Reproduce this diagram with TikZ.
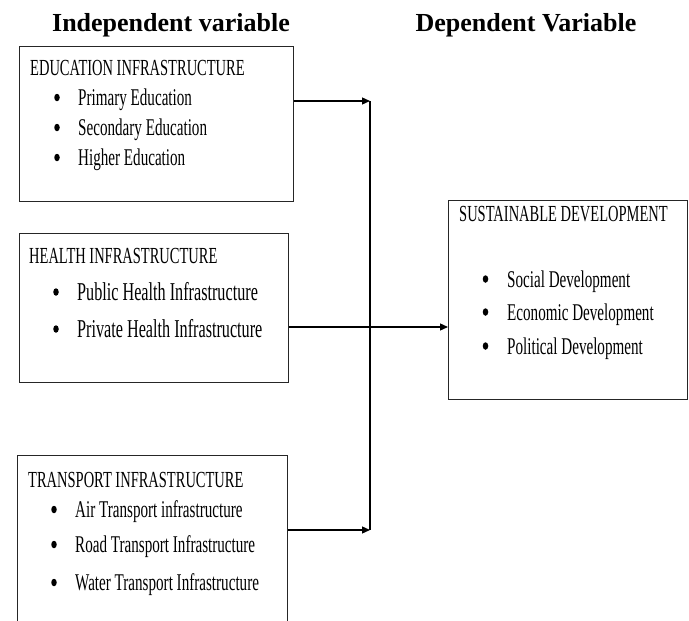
\documentclass[tikz,border=0pt]{standalone}
\usepackage{fontspec}
\setmainfont{Liberation Serif}
\newfontfamily\boxfont{Liberation Serif}[FakeStretch=0.63]
\usetikzlibrary{arrows.meta,shapes.geometric}
\begin{document}
\begin{tikzpicture}[x=1pt,y=-1pt,
  box/.style={draw=black!85, line width=1.4pt, inner sep=0pt, anchor=north west},
  ttl/.style={anchor=base west, inner sep=0pt, font=\boxfont\fontsize{23}{26}\selectfont},
  itm/.style={anchor=base west, inner sep=0pt, font=\boxfont\fontsize{24}{27}\selectfont},
  bitm/.style={anchor=base west, inner sep=0pt, font=\boxfont\fontsize{25.7}{29}\selectfont},
  bul/.style={ellipse, fill=black, inner sep=0pt, minimum width=5.5pt, minimum height=7.5pt},
  head/.style={anchor=base, inner sep=0pt, font=\bfseries\fontsize{26}{30}\selectfont},
  conn/.style={draw=black, line width=1.3pt},
  arr/.style={conn, -{Triangle[length=8pt,width=7pt]}}
]
\useasboundingbox (0,0) rectangle (689,621);

% headers
\node[head] (h1) at (171,31) {Independent variable};
\node[head] (h2) at (526,31) {Dependent Variable};

% boxes
\node[box, minimum width=274pt, minimum height=155pt] (edu) at (19,46) {};
\node[box, minimum width=269pt, minimum height=149pt] (hea) at (19,233) {};
\node[box, minimum width=270pt, minimum height=190pt] (tra) at (17,455) {};
\node[box, minimum width=239pt, minimum height=199pt] (sus) at (448,200) {};

% education text
\node[ttl] (edut) at (30,75.5) {EDUCATION INFRASTRUCTURE};
\node[bul] (edub1) at (57,97.5) {};
\node[bul] (edub2) at (57,127.5) {};
\node[bul] (edub3) at (57,157.5) {};
\node[itm] (edui1) at (78,105) {Primary Education};
\node[itm] (edui2) at (78,135) {Secondary Education};
\node[itm] (edui3) at (78,165) {Higher Education};

% health text
\node[ttl] (heat) at (29,263) {HEALTH INFRASTRUCTURE};
\node[bul] (heab1) at (56,292) {};
\node[bul] (heab2) at (56,329) {};
\node[bitm] (heai1) at (77,300) {Public Health Infrastructure};
\node[bitm] (heai2) at (77,337) {Private Health Infrastructure};

% transport text
\node[ttl] (trat) at (28,487) {TRANSPORT INFRASTRUCTURE};
\node[bul] (trab1) at (54,509.5) {};
\node[bul] (trab2) at (54,544.5) {};
\node[bul] (trab3) at (54,582.5) {};
\node[itm] (trai1) at (75,517) {Air Transport infrastructure};
\node[itm] (trai2) at (75,552) {Road Transport Infrastructure};
\node[itm] (trai3) at (75,590) {Water Transport Infrastructure};

% sustainable text
\node[ttl] (sust) at (459,221) {SUSTAINABLE DEVELOPMENT};
\node[bul] (susb1) at (485.5,279) {};
\node[bul] (susb2) at (485.5,312) {};
\node[bul] (susb3) at (485.5,346) {};
\node[itm] (susi1) at (507,287) {Social Development};
\node[itm] (susi2) at (507,320) {Economic Development};
\node[itm] (susi3) at (507,354) {Political Development};

% connectors
\coordinate (j1) at (370,101);
\coordinate (j3) at (370,530);
\coordinate (jh) at (0,327);
\draw[conn] (j1) -- (j3);
\draw[arr] (edu.east |- j1) -- (j1);
\draw[arr] (tra.east |- j3) -- (j3);
\draw[arr] (hea.east |- jh) -- (sus.west |- jh);
\end{tikzpicture}
\end{document}
